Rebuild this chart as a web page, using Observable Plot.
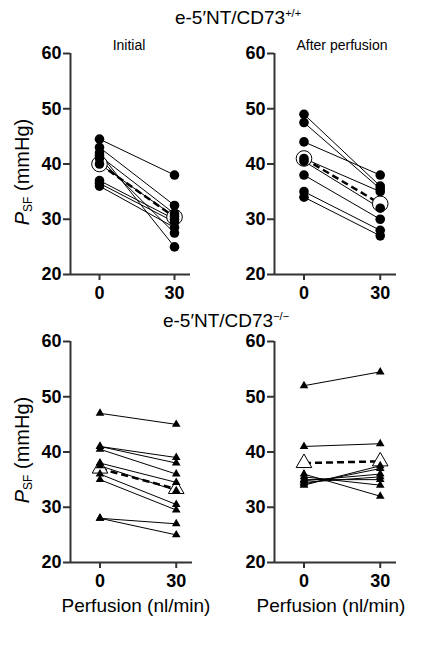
<!DOCTYPE html>
<html>
<head>
<meta charset="utf-8">
<script src="https://cdn.jsdelivr.net/npm/d3@7"></script>
<script src="https://cdn.jsdelivr.net/npm/@observablehq/plot@0.6"></script>
<style>
  html, body { margin: 0; padding: 0; background: #fff; }
  body { width: 430px; height: 654px; position: relative; overflow: hidden; font-family: "Liberation Sans", Arial, sans-serif; color: #000; }
  .abs { position: absolute; }
  .title { font-size: 19px; white-space: nowrap; transform: translate(-50%, 0); line-height: 1; }
  .title sup { font-size: 11px; vertical-align: 0.6em; line-height: 0; }
  .sub { font-size: 14px; white-space: nowrap; transform: translate(-50%, -50%); line-height: 1; }
  .xlab { font-size: 19px; white-space: nowrap; transform: translate(-50%, -50%); line-height: 1; }
  .ylab { font-size: 20px; white-space: nowrap; transform: translate(-50%, -50%) rotate(-90deg); line-height: 1; }
  .ylab sub { font-size: 12px; vertical-align: -0.25em; line-height: 0; }
</style>
</head>
<body>
<script>
// ---- data ----
const timePoints = [0, 30];
const xTicks = [0, 30];
const yTicks = [20, 30, 40, 50, 60];

// e-5'NT/CD73+/+  Initial
const wtInitial0  = [44.5, 43, 42, 41.5, 41, 40, 37, 36.5, 36];
const wtInitial30 = [38, 32.5, 25, 31, 27.5, 30.5, 30, 29.5, 28.5];
const wtInitialMean = [40, 30.4];

// e-5'NT/CD73+/+  After perfusion
const wtAfter0  = [49, 47.5, 44, 41, 40.5, 38, 35, 34];
const wtAfter30 = [36, 35.5, 38, 35, 32, 30, 28, 27];
const wtAfterMean = [41, 32.8];

// e-5'NT/CD73-/-  Initial
const koInitial0  = [47, 41, 41, 40.5, 38, 37.5, 36, 35, 28, 28];
const koInitial30 = [45, 39, 38, 36, 34.5, 33, 30.5, 29.5, 27, 25];
const koInitialMean = [37, 33.3];

// e-5'NT/CD73-/-  After perfusion
const koAfter0  = [52, 41, 36, 35.5, 35, 34.8, 34.5, 34.2, 34];
const koAfter30 = [54.5, 41.5, 32, 34, 35, 36, 35.5, 37, 37.5];
const koAfterMean = [38, 38.3];

const xDomain = [-11.6, 36.4];
const yDomain = [20, 60];
const FONT = "'Liberation Sans', Arial, sans-serif";
const AXIS = "#333";

function pairs(a, b) { return a.map((v, i) => ({y0: v, y1: b[i]})); }

function panel(opts) {
  const {left, top, width, height, mL, mR, mT, mB, y0, y1, mean, symbol, r, meanR} = opts;
  const rows = pairs(y0, y1);
  const pts = rows.flatMap(d => [{x: timePoints[0], y: d.y0}, {x: timePoints[1], y: d.y1}]);
  const meanPts = [{x: timePoints[0], y: mean[0]}, {x: timePoints[1], y: mean[1]}];
  const marks = [
    Plot.ruleX([xDomain[0]], {y1: yDomain[0], y2: yDomain[1], stroke: AXIS, strokeWidth: 2}),
    Plot.ruleY([yDomain[0]], {x1: xDomain[0], x2: xDomain[1], stroke: AXIS, strokeWidth: 2}),
    Plot.axisY({ticks: yTicks, tickSize: 7, tickPadding: 2, fontSize: 18, fontWeight: "bold", label: null, stroke: AXIS, strokeWidth: 2}),
    Plot.axisX({ticks: xTicks, tickSize: 6, tickPadding: 6, fontSize: 18, fontWeight: "bold", label: null, stroke: AXIS, strokeWidth: 2}),
    Plot.link(rows, {x1: timePoints[0], y1: "y0", x2: timePoints[1], y2: "y1", stroke: "#000", strokeWidth: 1}),
    Plot.link([mean], {x1: timePoints[0], y1: d => d[0], x2: timePoints[1], y2: d => d[1], stroke: "#000", strokeWidth: 2.5, strokeDasharray: "7,4"}),
    Plot.dot(meanPts, {x: "x", y: "y", symbol, r: meanR, fill: "white", stroke: "#000", strokeWidth: 1}),
    Plot.dot(pts, {x: "x", y: "y", symbol, r, fill: "#000", stroke: "none"})
  ];
  const svg = Plot.plot({
    width, height,
    marginLeft: mL, marginRight: mR, marginTop: mT, marginBottom: mB,
    x: {domain: xDomain},
    y: {domain: yDomain},
    style: {fontFamily: FONT, background: "transparent", overflow: "visible", color: "#000"},
    marks
  });
  const div = document.createElement("div");
  div.className = "abs";
  div.style.left = left + "px";
  div.style.top = top + "px";
  div.appendChild(svg);
  document.body.appendChild(div);
}

panel({left: 0, top: 0, width: 215, height: 310, mL: 70, mR: 25, mT: 53, mB: 36,
  y0: wtInitial0, y1: wtInitial30, mean: wtInitialMean, symbol: "circle", r: 4.8, meanR: 7.8});
panel({left: 215, top: 0, width: 215, height: 310, mL: 59, mR: 34, mT: 53, mB: 36,
  y0: wtAfter0, y1: wtAfter30, mean: wtAfterMean, symbol: "circle", r: 4.8, meanR: 7.8});
panel({left: 0, top: 320, width: 215, height: 300, mL: 70, mR: 23, mT: 21, mB: 58,
  y0: koInitial0, y1: koInitial30, mean: koInitialMean, symbol: "triangle", r: 3.2, meanR: 5.8});
panel({left: 215, top: 320, width: 215, height: 300, mL: 59, mR: 34, mT: 21, mB: 58,
  y0: koAfter0, y1: koAfter30, mean: koAfterMean, symbol: "triangle", r: 3.2, meanR: 5.8});

// ---- text ----
function addText(cls, html, x, y) {
  const d = document.createElement("div");
  d.className = "abs " + cls;
  d.style.left = x + "px";
  d.style.top = y + "px";
  d.innerHTML = html;
  document.body.appendChild(d);
}
addText("title", "e-5′NT/CD73<sup>+/+</sup>", 238, 8);
addText("title", "e-5′NT/CD73<sup>−/−</sup>", 226, 311);
addText("sub", "Initial", 129, 45);
addText("sub", "After perfusion", 342, 45);
addText("ylab", "<i>P</i><sub>SF</sub> (mmHg)", 22, 172);
addText("ylab", "<i>P</i><sub>SF</sub> (mmHg)", 22, 450);
addText("xlab", "Perfusion (nl/min)", 136, 605);
addText("xlab", "Perfusion (nl/min)", 331, 605);
</script>
</body>
</html>
